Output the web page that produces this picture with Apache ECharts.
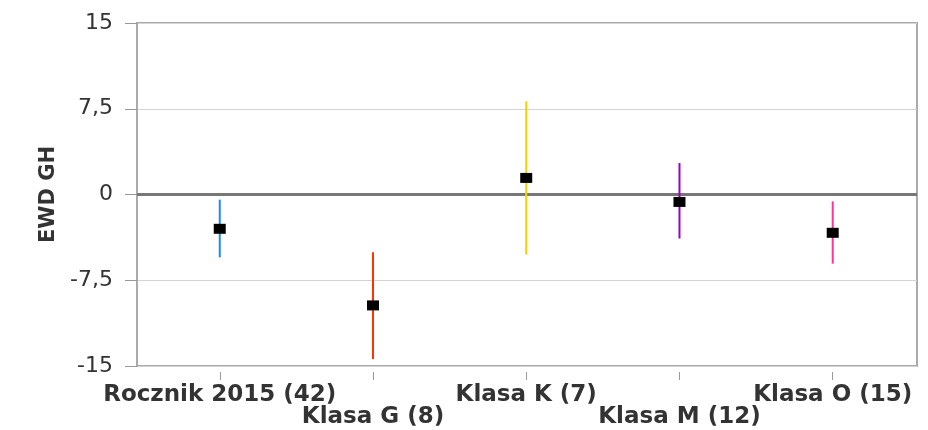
<!DOCTYPE html>
<html><head><meta charset="utf-8">
<script src="https://cdn.jsdelivr.net/npm/echarts@6/dist/echarts.min.js"></script>
<style>html,body{margin:0;padding:0;background:#fff}#c{width:928px;height:430px}</style>
</head><body><div id="c"></div>
<script>
var categories = ['Rocznik 2015 (42)', 'Klasa G (8)', 'Klasa K (7)', 'Klasa M (12)', 'Klasa O (15)'];
var meanValues = [-3.0, -9.7, 1.45, -0.65, -3.35];
var lowerValues = [-5.5, -14.4, -5.25, -3.85, -6.05];
var upperValues = [-0.45, -5.05, 8.15, 2.75, -0.6];
var barColors = ['#2288ee', '#ff3300', '#ffcc00', '#9900cc', '#ff3399'];
var yTicks = [-15, -7.5, 0, 7.5, 15];
var yTitle = 'EWD GH';

var idx = categories.map(function (_, i) { return i; });
var evenIdx = idx.filter(function (i) { return i % 2 === 0; });
var oddIdx = idx.filter(function (i) { return i % 2 === 1; });
var chart = echarts.init(document.getElementById('c'), null, {renderer: 'canvas'});
var font = '"DejaVu Sans", Verdana, sans-serif';
function xAxisFor(vals, margin) {
  return {
    type: 'value', min: -0.54, max: 4.55, offset: 6, position: 'bottom',
    axisLine: {show: false, onZero: false},
    splitLine: {show: false},
    axisTick: {show: true, customValues: vals, length: 8, lineStyle: {color: '#999999', width: 1}},
    axisLabel: {
      customValues: vals, interval: 0, margin: margin, fontFamily: font, fontWeight: 'bold', fontSize: 23, color: '#333333',
      hideOverlap: false, showMinLabel: true, showMaxLabel: true,
      formatter: function (v) { return categories[Math.round(v)]; }
    }
  };
}
chart.setOption({
  animation: false,
  grid: {left: 137, right: 11, top: 23, bottom: 64, show: true, borderColor: '#aaaaaa', borderWidth: 2, backgroundColor: 'transparent'},
  xAxis: [xAxisFor(evenIdx, 12), xAxisFor(oddIdx, 34)],
  yAxis: {
    type: 'value', min: yTicks[0], max: yTicks[yTicks.length - 1], interval: 7.5,
    name: yTitle, nameLocation: 'middle', nameGap: 78, nameRotate: 90,
    nameTextStyle: {fontFamily: font, fontWeight: 'bold', fontSize: 21, color: '#333333'},
    axisLine: {show: true, onZero: false, lineStyle: {color: '#aaaaaa', width: 2}},
    axisTick: {show: true, length: 12, lineStyle: {color: '#999999', width: 1}},
    splitLine: {show: true, lineStyle: {color: '#d4d4d4', width: 1}},
    axisLabel: {margin: 24, fontFamily: font, fontSize: 22, color: '#333333', padding: [4, 0, 0, 0],
      formatter: function (v) { return String(v).replace('.', ','); }}
  },
  series: [
    {
      type: 'custom', z: 3, xAxisIndex: 0,
      data: idx.map(function (i) { return [i, lowerValues[i], upperValues[i]]; }),
      renderItem: function (params, api) {
        var a = api.coord([api.value(0), api.value(1)]);
        var b = api.coord([api.value(0), api.value(2)]);
        return {type: 'line', shape: {x1: a[0], y1: a[1], x2: b[0], y2: b[1]},
          style: {stroke: barColors[params.dataIndex], lineWidth: 2}};
      },
      markLine: {
        silent: true, symbol: 'none', label: {show: false}, z: 2,
        lineStyle: {color: '#777777', width: 3, type: 'solid'},
        data: [{yAxis: 0}]
      }
    },
    {
      type: 'scatter', z: 5, xAxisIndex: 0,
      symbol: 'rect', symbolSize: [12, 10],
      itemStyle: {color: '#000000', opacity: 1},
      data: idx.map(function (i) { return [i, meanValues[i]]; })
    }
  ]
});
</script></body></html>
